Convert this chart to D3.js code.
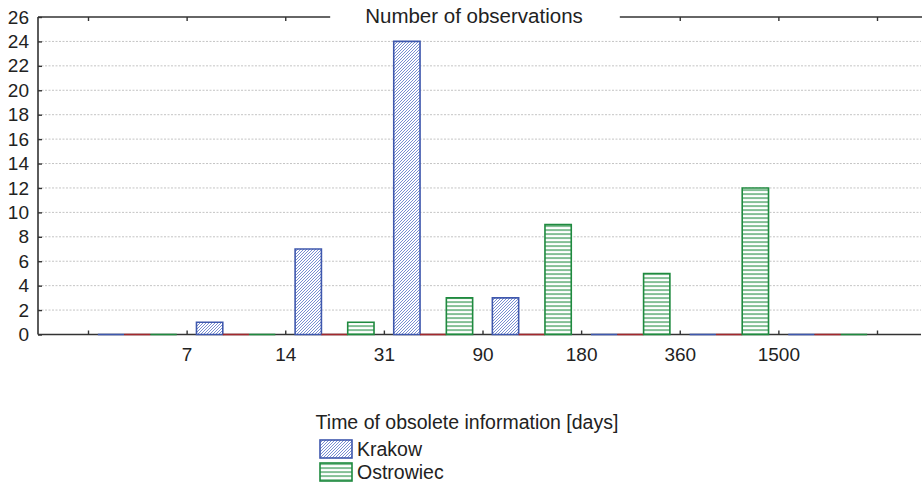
<!DOCTYPE html>
<html>
<head>
<meta charset="utf-8">
<script src="https://cdn.jsdelivr.net/npm/d3@7"></script>
<style>
  body { margin: 0; background: #fff; }
  text { font-family: "Liberation Sans", Arial, sans-serif; fill: #222; }
</style>
</head>
<body>
<div id="wrapper"></div>
<script>
// bin boundaries (first and last unlabeled)
const boundaryLabels = ["", "7", "14", "31", "90", "180", "360", "1500", ""]
const bins = [0, 1, 2, 3, 4, 5, 6, 7]
const seriesKeys = ["krakow", "other", "ostrowiec"]
const legendNames = ["Krakow", "Ostrowiec"]
const krakow = [0, 1, 7, 24, 3, 0, 0, 0]
const other = [0, 0, 0, 0, 0, 0, 0, 0]
const ostrowiec = [0, 0, 1, 3, 9, 5, 12, 0]
const yTicks = [0, 2, 4, 6, 8, 10, 12, 14, 16, 18, 20, 22, 24, 26]

const chartTitle = "Number of observations"
const xTitle = "Time of obsolete information [days]"

const dimensions = {
  width: 922,
  height: 488,
  margin: { top: 17, right: 1, bottom: 153.5, left: 38 }
}
dimensions.boundedWidth = dimensions.width - dimensions.margin.left - dimensions.margin.right
dimensions.boundedHeight = dimensions.height - dimensions.margin.top - dimensions.margin.bottom

const svg = d3.select("#wrapper").append("svg")
  .attr("width", dimensions.width)
  .attr("height", dimensions.height)

const defs = svg.append("defs")

// blue diagonal hatch
const hatchK = defs.append("pattern")
  .attr("id", "hatchK")
  .attr("patternUnits", "userSpaceOnUse")
  .attr("width", 3).attr("height", 3)
hatchK.append("rect").attr("width", 3).attr("height", 3).attr("fill", "#fff")
hatchK.append("path")
  .attr("d", "M-1,1 l2,-2 M0,3 l3,-3 M2,4 l2,-2")
  .attr("stroke", "#6a82cc").attr("stroke-width", 0.9)

// green horizontal lines
const hatchO = defs.append("pattern")
  .attr("id", "hatchO")
  .attr("patternUnits", "userSpaceOnUse")
  .attr("y", 0.5)
  .attr("width", 4).attr("height", 4)
hatchO.append("rect").attr("width", 4).attr("height", 4).attr("fill", "#fff")
hatchO.append("line")
  .attr("x1", 0).attr("x2", 4).attr("y1", 0.5).attr("y2", 0.5)
  .attr("stroke", "#1f8a3f").attr("stroke-width", 1.2)

const styles = {
  krakow: { stroke: "#3f58ad", fill: "url(#hatchK)" },
  other: { stroke: "#a3282e", fill: "none" },
  ostrowiec: { stroke: "#1f8a3f", fill: "url(#hatchO)" }
}

const bounds = svg.append("g")
  .attr("transform", `translate(${dimensions.margin.left},${dimensions.margin.top})`)

// scales
const groupStart = 50, groupEnd = 839
const xBoundary = d3.scaleLinear()
  .domain([0, bins.length])
  .range([groupStart, groupEnd])

const xScale = d3.scaleBand()
  .domain(bins)
  .range([groupStart, groupEnd])
  .paddingInner(0.2)
  .paddingOuter(0.1)

const xSeries = d3.scaleBand()
  .domain(seriesKeys)
  .range([0, xScale.bandwidth()])

const yScale = d3.scaleLinear()
  .domain([0, 26])
  .range([dimensions.boundedHeight, 0])

// grid
bounds.append("g")
  .selectAll("line")
  .data(yTicks.filter(d => d > 0 && d < 26))
  .join("line")
    .attr("x1", 0).attr("x2", dimensions.boundedWidth)
    .attr("y1", d => yScale(d)).attr("y2", d => yScale(d))
    .attr("stroke", "#c4c4c4")
    .attr("stroke-width", 1)
    .attr("stroke-dasharray", "2,1.5")

// y axis
const yAxis = bounds.append("g")
  .call(d3.axisLeft(yScale).tickValues(yTicks).tickSize(-4).tickPadding(9))
yAxis.select(".domain").remove()
yAxis.selectAll(".tick line").attr("stroke", "#333").attr("stroke-width", 1.4)
yAxis.selectAll("text")
  .style("font-size", "19px")
  .attr("fill", "#222")
bounds.append("line")
  .attr("x1", 0).attr("x2", 0).attr("y1", 0).attr("y2", dimensions.boundedHeight)
  .attr("stroke", "#333").attr("stroke-width", 1.6)

// bottom axis
const xAxis = bounds.append("g")
  .attr("transform", `translate(0,${dimensions.boundedHeight})`)
  .call(d3.axisBottom(xBoundary)
    .tickValues(d3.range(boundaryLabels.length))
    .tickFormat(i => boundaryLabels[i])
    .tickSize(-4)
    .tickPadding(13.5))
xAxis.select(".domain").remove()
xAxis.selectAll(".tick line").attr("stroke", "#333").attr("stroke-width", 1.4)
xAxis.selectAll("text").style("font-size", "19px").attr("fill", "#222")
bounds.append("line")
  .attr("x1", 0).attr("x2", dimensions.boundedWidth)
  .attr("y1", dimensions.boundedHeight).attr("y2", dimensions.boundedHeight)
  .attr("stroke", "#333").attr("stroke-width", 1.6)

// title, centred in a gap of the top frame line
const title = svg.append("text")
  .attr("x", 474)
  .attr("y", 23)
  .attr("text-anchor", "middle")
  .style("font-size", "20.5px")
  .text(chartTitle)
const tw = title.node().getComputedTextLength()
const gapL = 474 - tw / 2 - 35 - dimensions.margin.left
const gapR = 474 + tw / 2 + 37 - dimensions.margin.left

const topAxis = bounds.append("g")
  .call(d3.axisTop(xBoundary)
    .tickValues(d3.range(boundaryLabels.length).filter(i => {
      const px = xBoundary(i)
      return px < gapL || px > gapR
    }))
    .tickFormat("")
    .tickSize(-4))
topAxis.select(".domain").remove()
topAxis.selectAll(".tick line").attr("stroke", "#333").attr("stroke-width", 1.4)

bounds.append("line")
  .attr("x1", 0).attr("x2", gapL).attr("y1", 0).attr("y2", 0)
  .attr("stroke", "#333").attr("stroke-width", 1.6)
bounds.append("line")
  .attr("x1", gapR).attr("x2", dimensions.boundedWidth + 2).attr("y1", 0).attr("y2", 0)
  .attr("stroke", "#333").attr("stroke-width", 1.6)

// bars
const seriesData = { krakow, other, ostrowiec }
const barData = []
seriesKeys.forEach(key => {
  seriesData[key].forEach((v, i) => barData.push({ key, bin: bins[i], value: v }))
})

bounds.append("g")
  .selectAll("path")
  .data(barData)
  .join("path")
    .attr("d", d => {
      const x0 = xScale(d.bin) + xSeries(d.key)
      const x1 = x0 + xSeries.bandwidth()
      const y0 = yScale(0)
      const y1 = yScale(d.value)
      return d.value > 0
        ? `M${x0},${y0}V${y1}H${x1}V${y0}Z`
        : `M${x0},${y0}H${x1}`
    })
    .attr("fill", d => d.value > 0 ? styles[d.key].fill : "none")
    .attr("stroke", d => styles[d.key].stroke)
    .attr("stroke-width", 1.6)

// x title and legend
svg.append("text")
  .attr("x", 467)
  .attr("y", 429)
  .attr("text-anchor", "middle")
  .style("font-size", "19.5px")
  .text(xTitle)

const legendKeys = ["krakow", "ostrowiec"]
const legend = svg.append("g")
  .selectAll("g")
  .data(legendKeys)
  .join("g")
    .attr("transform", (d, i) => `translate(320,${440 + i * 23})`)
legend.append("rect")
  .attr("width", 32).attr("height", 18)
  .attr("fill", d => styles[d].fill)
  .attr("stroke", d => styles[d].stroke)
  .attr("stroke-width", 1.6)
legend.append("text")
  .attr("x", 37)
  .attr("y", 16)
  .style("font-size", "19.5px")
  .text((d, i) => legendNames[i])
</script>
</body>
</html>
